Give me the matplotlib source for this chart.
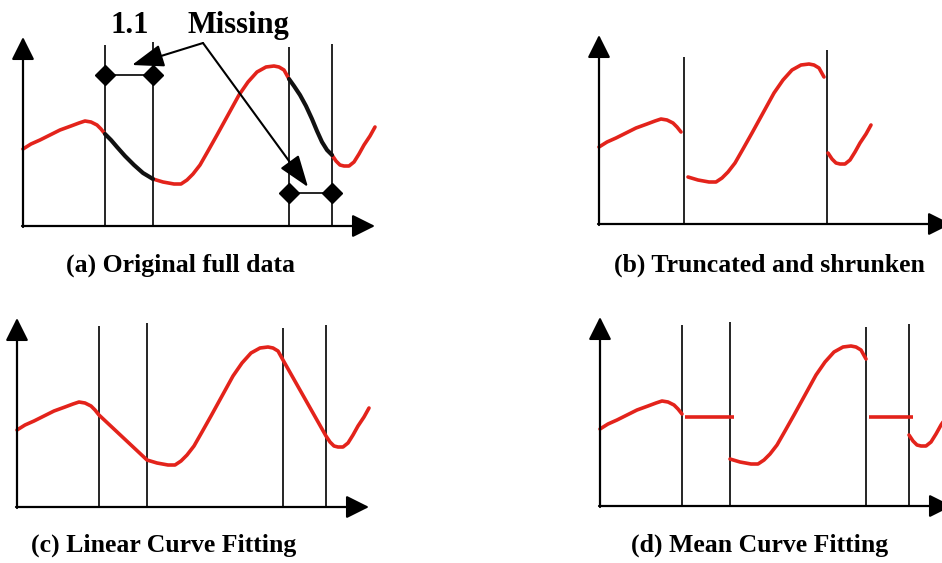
import numpy as np
import matplotlib
matplotlib.use("Agg")
import matplotlib.pyplot as plt

W, H = 942, 563

# sampled signal (time, value)
t = np.array([0, 8, 17, 27, 37, 48, 56, 62, 68, 74, 78, 82, 88, 94, 102, 111,
              120, 130, 140, 151, 158, 164, 170, 177, 185, 194, 205, 216, 225,
              234, 243, 251, 256, 261, 266, 271, 277, 283, 289, 294, 299, 304,
              309, 313, 317, 321, 326, 331, 336, 341, 347, 352])
v = np.array([77, 82, 86, 91, 96, 100, 103, 105, 104, 101, 97, 92, 86, 79, 70,
              61, 53, 47, 44, 42, 42, 46, 52, 61, 75, 91, 111, 131, 144, 154,
              159, 160, 159, 156, 147, 140, 131, 120, 107, 95, 84, 76, 71, 65,
              61, 60, 60, 64, 72, 81, 90, 99])

# missing windows (start, end)
gaps = [(82, 130), (266, 309)]
gap_tops = [181, 184, 179, 182]
# height of the diamond markers for each missing window
gap_marks = [151, 33]

# truncated version: where the cuts sit and how far each piece is shifted
cuts_b = [85, 228]
cut_tops_b = [167, 174]
shifts_b = [0, -41, -80]

# mean used to fill the gaps
mean_fill = 89

captions = ["(a) Original full data", "(b) Truncated and shrunken",
            "(c) Linear Curve Fitting", "(d) Mean Curve Fitting"]

RED = "#e3231b"
AXIS_LEN = (352, 189)


def make_panel(fig, ox, oy):
    ax = fig.add_axes([0, 0, 1, 1])
    ax.set_xlim(-ox, W - ox)
    ax.set_ylim(oy - H, oy)
    ax.axis("off")
    ax.patch.set_alpha(0)
    return ax


def draw_axes(ax):
    style = dict(arrowstyle="-|>,head_length=1.0,head_width=0.5", lw=1.6,
                 color="black", shrinkA=0, shrinkB=0, mutation_scale=14)
    ax.annotate("", xy=(AXIS_LEN[0], 0), xytext=(-1, 0), arrowprops=style,
                annotation_clip=False)
    ax.annotate("", xy=(0, AXIS_LEN[1]), xytext=(0, -1), arrowprops=style,
                annotation_clip=False)


def vlines(ax, xs, tops):
    for x, top in zip(xs, tops):
        ax.plot([x, x], [0, top], color="black", lw=1.2, solid_capstyle="butt")


def between(lo, hi):
    return (t >= lo) & (t <= hi)


pieces = [between(0, gaps[0][0]), between(gaps[0][1], gaps[1][0]),
          between(gaps[1][1], t.max())]
inside = [between(a, b) for a, b in gaps]

fig = plt.figure(figsize=(W / 100, H / 100), dpi=100)
fig.patch.set_facecolor("white")

# (a) original data with the missing windows highlighted
ax = make_panel(fig, 23, 226)
draw_axes(ax)
vlines(ax, [x for g in gaps for x in g], gap_tops)
for m in pieces:
    ax.plot(t[m], v[m], color=RED, lw=2.6, solid_capstyle="round")
for m in inside:
    ax.plot(t[m], v[m], color="#111111", lw=3.0, solid_capstyle="round")
for (a, b), y in zip(gaps, gap_marks):
    ax.plot([a, b], [y, y], color="black", lw=1.2, marker="D", ms=10,
            markerfacecolor="black")
ax.text(107, 193, "1.1", fontsize=22, fontweight="bold",
        family="Liberation Serif", ha="center", va="baseline")
ax.text(215, 193, "Missing", fontsize=22, fontweight="bold",
        family="Liberation Serif", ha="center", va="baseline")
hub = (180, 183)
astyle = dict(arrowstyle="-|>,head_length=1.4,head_width=0.5", lw=1.5,
              color="black", shrinkA=0, shrinkB=0, mutation_scale=14)
ax.annotate("", xy=(109, 161), xytext=hub, arrowprops=astyle)
ax.annotate("", xy=(285, 39), xytext=hub, arrowprops=astyle)

# (b) truncated and shrunken
ax = make_panel(fig, 599, 224)
draw_axes(ax)
vlines(ax, cuts_b, cut_tops_b)
for m, s in zip(pieces, shifts_b):
    ax.plot(t[m] + s, v[m], color=RED, lw=2.6, solid_capstyle="round")

# (c) linear fit across the gaps
ax = make_panel(fig, 17, 507)
draw_axes(ax)
vlines(ax, [x for g in gaps for x in g], gap_tops)
keep = pieces[0] | pieces[1] | pieces[2]
ax.plot(t[keep], v[keep], color=RED, lw=2.6, solid_capstyle="round",
        solid_joinstyle="round")

# (d) mean fill
ax = make_panel(fig, 600, 506)
draw_axes(ax)
vlines(ax, [x for g in gaps for x in g], gap_tops)
for m in pieces:
    ax.plot(t[m], v[m], color=RED, lw=2.6, solid_capstyle="round")
for a, b in gaps:
    ax.plot([a + 3, b + 4], [mean_fill, mean_fill], color=RED, lw=2.6,
            solid_capstyle="butt")

cap = dict(fontsize=18.5, fontweight="bold", family="Liberation Serif",
           ha="center", va="baseline")
for (cx, cy), text in zip([(181, 272), (769, 272), (164, 552), (760, 552)],
                          captions):
    fig.text(cx / W, 1 - cy / H, text, **cap)

fig.savefig("out.png", dpi=100)
